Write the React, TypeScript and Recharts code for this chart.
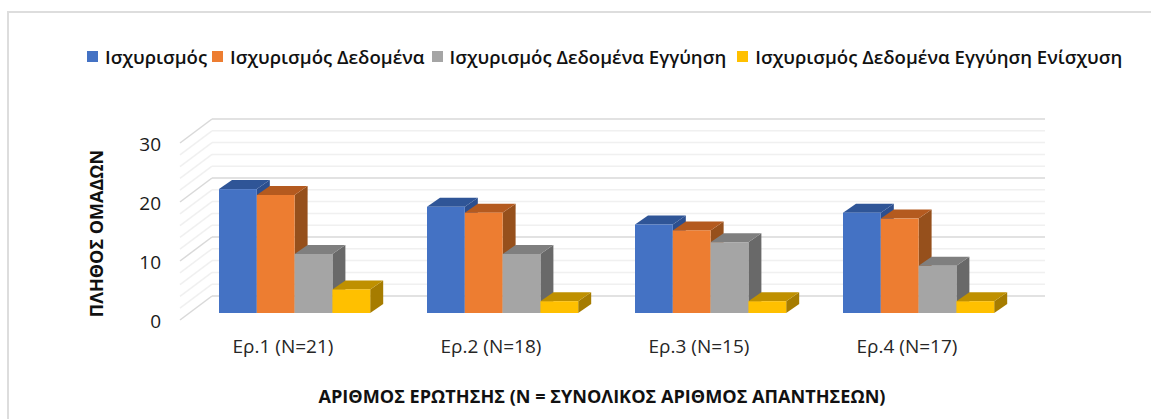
import { BarChart, Bar, XAxis, YAxis, CartesianGrid, Legend, Label } from "recharts"

const categories = ["Ερ.1 (N=21)", "Ερ.2 (N=18)", "Ερ.3 (N=15)", "Ερ.4 (N=17)"]
const claim = [21, 18, 15, 17]
const claimData = [20, 17, 14, 16]
const claimDataWarrant = [10, 10, 12, 8]
const claimDataWarrantBacking = [4, 2, 2, 2]

const seriesNames = [
  "Ισχυρισμός",
  "Ισχυρισμός Δεδομένα",
  "Ισχυρισμός Δεδομένα Εγγύηση",
  "Ισχυρισμός Δεδομένα Εγγύηση Ενίσχυση",
]
const seriesColors = ["#4472C4", "#ED7D31", "#A5A5A5", "#FFC000"]
const topColors = ["#2F5597", "#B45A1F", "#7F7F7F", "#BF9000"]
const sideColors = ["#2C4F8F", "#96501C", "#696969", "#A67C00"]
const yTicks = [0, 2, 4, 6, 8, 10, 12, 14, 16, 18, 20, 22, 24, 26, 28, 30]
const legendGaps = [5, 7, 11, 0]

const data = categories.map((name, i) => ({
  name,
  s0: claim[i],
  s1: claimData[i],
  s2: claimDataWarrant[i],
  s3: claimDataWarrantBacking[i],
}))

const FONT = "'Open Sans', sans-serif"
const DEPTH_X = 13
const DEPTH_Y = 9

// 3D look: front face plus top and right side faces
function Bar3D({ x, y, width, height, seriesIndex }: any) {
  if (!height) return null
  const r = x + width
  const b = y + height
  return (
    <g>
      <polygon
        points={`${r},${y} ${r + DEPTH_X},${y - DEPTH_Y} ${r + DEPTH_X},${b - DEPTH_Y} ${r},${b}`}
        fill={sideColors[seriesIndex]}
      />
      <polygon
        points={`${x},${y} ${x + DEPTH_X},${y - DEPTH_Y} ${r + DEPTH_X},${y - DEPTH_Y} ${r},${y}`}
        fill={topColors[seriesIndex]}
      />
      <rect x={x} y={y} width={width} height={height} fill={seriesColors[seriesIndex]} />
    </g>
  )
}

// gridlines sit on the back wall, with a diagonal running down the side wall
function WallLine({ x1, x2, y1, index }: any) {
  const major = index % 5 === 0
  const stroke = major ? "#D9D9D9" : "#F0F0F0"
  return (
    <g>
      <line x1={x1 - 11} y1={y1 + 7} x2={x1 + 21} y2={y1 - 17} stroke={stroke} strokeWidth={1.5} />
      <line x1={x1 + 21} y1={y1 - 17} x2={x2 + 22} y2={y1 - 17} stroke={stroke} strokeWidth={1.5} />
    </g>
  )
}

function YTick({ x, y, payload }: any) {
  if (payload.value % 10 !== 0) return null
  return (
    <text x={x - 24} y={y + 9} dy={6} textAnchor="end" fontSize={19} fontFamily={FONT} fill="#1a1a1a">
      {payload.value}
    </text>
  )
}

function XTick({ x, y, payload }: any) {
  return (
    <text x={x - 12} y={y + 26} dy={6} textAnchor="middle" fontSize={19} fontFamily={FONT} fill="#262626">
      {payload.value}
    </text>
  )
}

function LegendRow() {
  return (
    <div style={{ display: "flex", alignItems: "center", fontFamily: FONT, fontWeight: 600, fontSize: 18.6, color: "#111", whiteSpace: "nowrap" }}>
      {seriesNames.map((name, i) => (
        <span key={name} style={{ display: "flex", alignItems: "center", marginRight: legendGaps[i] }}>
          <span style={{ width: 11, height: 11, background: seriesColors[i], marginRight: 7 }} />
          {name}
        </span>
      ))}
    </div>
  )
}

export default function App() {
  return (
    <div style={{ position: "absolute", left: 0, top: 0, width: 1151, height: 419, background: "#fff" }}>
      <div style={{ position: "absolute", left: 7, top: 11, right: 0, bottom: 0, borderTop: "2px solid #DDD", borderLeft: "2px solid #DDD" }} />
      <BarChart
        width={1151}
        height={419}
        data={data}
        barGap={0}
        barSize={37.8}
        barCategoryGap={56}
        margin={{ top: 136, right: 128, bottom: 46, left: 131 }}
      >
        <CartesianGrid vertical={false} horizontal={(props: any) => <WallLine key={props.index} {...props} />} />
        <XAxis dataKey="name" axisLine={false} tickLine={false} height={60} tick={<XTick />} interval={0}>
          <Label
            value="ΑΡΙΘΜΟΣ ΕΡΩΤΗΣΗΣ (Ν = ΣΥΝΟΛΙΚΟΣ ΑΡΙΘΜΟΣ ΑΠΑΝΤΗΣΕΩΝ)"
            position="insideBottom"
            offset={-30}
            dx={-5}
            style={{ fontFamily: FONT, fontWeight: 700, fontSize: 18.1, fill: "#111" }}
          />
        </XAxis>
        <YAxis
          width={60}
          domain={[0, 30]}
          ticks={yTicks}
          interval={0}
          axisLine={false}
          tickLine={false}
          tickMargin={0}
          tick={<YTick />}
        >
          <Label
            value="ΠΛΗΘΟΣ ΟΜΑΔΩΝ"
            angle={-90}
            position="insideLeft"
            offset={-34}
            dy={9}
            style={{ textAnchor: "middle", fontFamily: FONT, fontWeight: 700, fontSize: 18, fill: "#111" }}
          />
        </YAxis>
        <Legend
          verticalAlign="middle"
          align="center"
          layout="horizontal"
          content={<LegendRow />}
          wrapperStyle={{ top: 44, left: 87, width: "auto" }}
        />
        {["s0", "s1", "s2", "s3"].map((key, i) => (
          <Bar
            key={key}
            dataKey={key}
            name={seriesNames[i]}
            fill={seriesColors[i]}
            isAnimationActive={false}
            shape={(props: any) => <Bar3D {...props} seriesIndex={i} />}
          />
        ))}
      </BarChart>
    </div>
  )
}
